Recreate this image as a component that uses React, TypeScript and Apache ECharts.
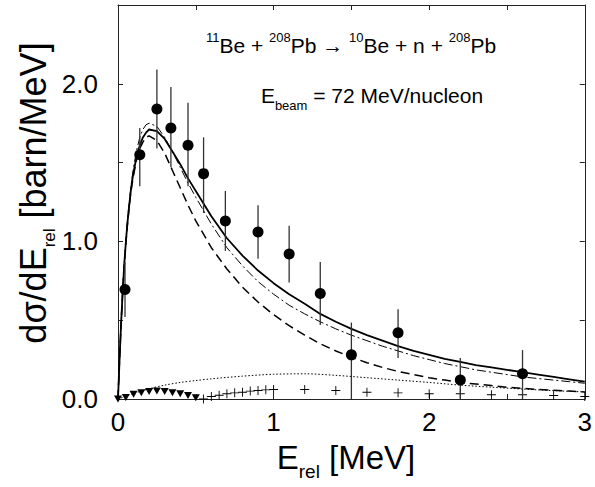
import React, { useEffect, useRef } from "react";
import * as echarts from "echarts";

// Theory curves (shared energy grid)
const CURVE_X = [0, 0.01, 0.02, 0.03, 0.04, 0.05, 0.06, 0.07, 0.08, 0.09, 0.1, 0.12, 0.14, 0.16, 0.18, 0.2, 0.25, 0.3, 0.35, 0.4, 0.45, 0.5, 0.6, 0.7, 0.8, 0.9, 1.0, 1.1, 1.2, 1.3, 1.4, 1.5, 1.6, 1.7, 1.8, 1.9, 2.0, 2.1, 2.2, 2.3, 2.4, 2.5, 2.6, 2.7, 2.8, 2.9, 3.0];
const SOLID_Y = [0, 0.25, 0.48, 0.68, 0.85, 0.99, 1.11, 1.21, 1.30, 1.38, 1.44, 1.54, 1.61, 1.66, 1.69, 1.71, 1.70, 1.65, 1.57, 1.49, 1.40, 1.32, 1.16, 1.02, 0.91, 0.815, 0.735, 0.665, 0.605, 0.54, 0.49, 0.445, 0.405, 0.37, 0.335, 0.305, 0.28, 0.255, 0.235, 0.215, 0.20, 0.185, 0.17, 0.155, 0.14, 0.125, 0.11];
const DASHDOT_Y = [0, 0.25, 0.48, 0.68, 0.86, 1.00, 1.12, 1.23, 1.32, 1.40, 1.47, 1.58, 1.66, 1.71, 1.74, 1.75, 1.73, 1.66, 1.57, 1.47, 1.37, 1.28, 1.11, 0.96, 0.845, 0.745, 0.665, 0.595, 0.54, 0.49, 0.445, 0.405, 0.37, 0.335, 0.305, 0.275, 0.25, 0.225, 0.205, 0.185, 0.17, 0.155, 0.14, 0.13, 0.12, 0.11, 0.10];
const LONGDASH_Y = [0, 0.25, 0.48, 0.68, 0.85, 0.98, 1.10, 1.20, 1.29, 1.36, 1.42, 1.52, 1.59, 1.63, 1.66, 1.67, 1.64, 1.56, 1.45, 1.34, 1.23, 1.13, 0.96, 0.825, 0.71, 0.615, 0.535, 0.465, 0.405, 0.35, 0.305, 0.265, 0.23, 0.20, 0.175, 0.155, 0.135, 0.12, 0.105, 0.095, 0.085, 0.075, 0.068, 0.06, 0.055, 0.05, 0.045];

const DOTTED_X = [0, 0.1, 0.2, 0.3, 0.4, 0.5, 0.6, 0.8, 1.0, 1.2, 1.4, 1.6, 1.8, 2.0, 2.2, 2.4, 2.6, 2.8, 3.0];
const DOTTED_Y = [0, 0.035, 0.065, 0.088, 0.105, 0.117, 0.128, 0.145, 0.157, 0.16, 0.15, 0.135, 0.12, 0.105, 0.088, 0.075, 0.063, 0.053, 0.045];

// Small components
const TRI_X = [0.0, 0.05, 0.1, 0.15, 0.2, 0.25, 0.3, 0.35, 0.4, 0.45, 0.5];
const TRI_Y = [0.0, 0.01, 0.03, 0.04, 0.048, 0.05, 0.048, 0.04, 0.033, 0.022, 0.008];
const CROSS_X = [0.55, 0.6, 0.65, 0.7, 0.75, 0.8, 0.85, 0.9, 0.95, 1.0, 1.2, 1.4, 1.6, 1.8, 2.0, 2.2, 2.4, 2.6, 2.8, 3.0];
const CROSS_Y = [0.0, 0.016, 0.024, 0.033, 0.039, 0.043, 0.05, 0.054, 0.058, 0.06, 0.06, 0.054, 0.043, 0.039, 0.033, 0.033, 0.027, 0.027, 0.022, 0.016];

// Experimental data
const EXP_X = [0.045, 0.14, 0.25, 0.34, 0.45, 0.55, 0.69, 0.90, 1.10, 1.30, 1.50, 1.80, 2.20, 2.60];
const EXP_Y = [0.695, 1.55, 1.84, 1.72, 1.61, 1.43, 1.13, 1.06, 0.92, 0.67, 0.28, 0.42, 0.12, 0.16];
const ERR_LO = [0.52, 1.35, 1.59, 1.47, 1.35, 1.18, 0.94, 0.89, 0.74, 0.47, 0.0, 0.26, 0.0, 0.0];
const ERR_HI = [0.87, 1.72, 2.09, 1.98, 1.88, 1.66, 1.32, 1.23, 1.10, 0.87, 0.485, 0.57, 0.26, 0.31];

const X_LABELS = ["0", "1", "2", "3"];
const Y_LABELS = ["0.0", "1.0", "2.0"];

const FONT = "Liberation Sans, Arial, Helvetica, sans-serif";

const zip = (xs: number[], ys: number[]) => xs.map((x, i) => [x, ys[i]]);

export default function App() {
  const ref = useRef<HTMLDivElement>(null);
  useEffect(() => {
    if (!ref.current) return;
    const chart = echarts.init(ref.current, undefined, { renderer: "svg" });
    const axisLine = { show: true, lineStyle: { color: "#222", width: 1 } };
    const tick = { show: true, inside: true, length: 5, lineStyle: { color: "#222", width: 1 } };
    const lineBase = { type: "line", showSymbol: false, smooth: false, silent: true, z: 2 };
    chart.setOption({
      animation: false,
      grid: { left: 118, right: 6, top: 5, bottom: 88 },
      xAxis: [
        {
          type: "value", min: 0, max: 3, interval: 0.5, position: "bottom",
          axisLine: { ...axisLine, onZero: false }, axisTick: tick, splitLine: { show: false },
          axisLabel: {
            margin: 10, fontSize: 26, color: "#000", fontFamily: FONT,
            formatter: (v: number) => (Math.abs(v - Math.round(v)) < 1e-6 ? X_LABELS[Math.round(v)] : ""),
          },
        },
        {
          type: "value", min: 0, max: 3, interval: 0.5, position: "top",
          axisLine: { ...axisLine, onZero: false }, axisTick: tick, splitLine: { show: false }, axisLabel: { show: false },
        },
      ],
      yAxis: [
        {
          type: "value", min: 0, max: 2.5, interval: 0.5, position: "left",
          axisLine: { ...axisLine, onZero: false }, axisTick: tick, splitLine: { show: false },
          axisLabel: {
            margin: 20, fontSize: 26, color: "#000", fontFamily: FONT,
            formatter: (v: number) => (Math.abs(v - Math.round(v)) < 1e-6 ? Y_LABELS[Math.round(v)] ?? "" : ""),
          },
        },
        {
          type: "value", min: 0, max: 2.5, interval: 0.5, position: "right",
          axisLine: { ...axisLine, onZero: false }, axisTick: tick, splitLine: { show: false }, axisLabel: { show: false },
        },
      ],
      series: [
        { ...lineBase, data: zip(CURVE_X, SOLID_Y), lineStyle: { color: "#000", width: 1.8, type: "solid" } },
        { ...lineBase, data: zip(CURVE_X, DASHDOT_Y), lineStyle: { color: "#000", width: 1, type: [9, 3, 2, 3] } },
        { ...lineBase, data: zip(CURVE_X, LONGDASH_Y), lineStyle: { color: "#000", width: 1.5, type: [9, 5] } },
        { ...lineBase, smooth: 0.3, data: zip(DOTTED_X, DOTTED_Y), lineStyle: { color: "#000", width: 1, type: [1.5, 2] } },
        {
          type: "scatter", data: zip(TRI_X, TRI_Y), symbol: "triangle", symbolRotate: 180, symbolSize: [8, 7],
          itemStyle: { color: "#000", opacity: 1 }, silent: true, z: 3,
        },
        {
          type: "scatter", data: zip(CROSS_X, CROSS_Y),
          symbol: "path://M4.5,0h1v4.5h4.5v1h-4.5v4.5h-1v-4.5h-4.5v-1h4.5z", symbolSize: 9,
          itemStyle: { color: "#000", opacity: 1 }, silent: true, z: 3,
        },
        {
          type: "custom", silent: true, z: 4,
          data: EXP_X.map((x, i) => [x, ERR_LO[i], ERR_HI[i]]),
          encode: { x: 0, y: [1, 2] },
          renderItem: (_p: any, api: any) => {
            const x = api.value(0);
            const a = api.coord([x, api.value(1)]);
            const b = api.coord([x, api.value(2)]);
            return {
              type: "line",
              shape: { x1: a[0], y1: a[1], x2: b[0], y2: b[1] },
              style: { stroke: "#333", lineWidth: 1.3 },
            };
          },
        },
        {
          type: "scatter", data: zip(EXP_X, EXP_Y), symbol: "circle", symbolSize: 11,
          itemStyle: { color: "#000", opacity: 1 }, silent: true, z: 5,
        },
      ],
      graphic: [
        {
          type: "text", x: 351, y: 45.7, z: 10,
          style: {
            text: "{sup|11}{m|Be + }{sup|208}{m|Pb → }{sup|10}{m|Be + n + }{sup|208}{m|Pb}",
            align: "center", verticalAlign: "middle", textAlign: "center", textVerticalAlign: "middle",
            fill: "#000",
            rich: {
              m: { fontSize: 21, lineHeight: 29, fontFamily: FONT, fill: "#000" },
              sup: { fontSize: 13, lineHeight: 13, verticalAlign: "top", fontFamily: FONT, fill: "#000" },
            },
          },
        },
        {
          type: "text", x: 372, y: 95.7, z: 10,
          style: {
            text: "{m|E}{sub|beam}{m| = 72 MeV/nucleon}",
            align: "center", verticalAlign: "middle", textAlign: "center", textVerticalAlign: "middle",
            fill: "#000",
            rich: {
              m: { fontSize: 21, lineHeight: 33, fontFamily: FONT, fill: "#000" },
              sub: { fontSize: 13, lineHeight: 13, verticalAlign: "bottom", fontFamily: FONT, fill: "#000" },
            },
          },
        },
        {
          type: "text", x: 346, y: 457.6, z: 10,
          style: {
            text: "{m|E}{sub|rel}{m| [MeV]}",
            align: "center", verticalAlign: "middle", textAlign: "center", textVerticalAlign: "middle",
            fill: "#000",
            rich: {
              m: { fontSize: 33, lineHeight: 46, fontFamily: FONT, fill: "#000" },
              sub: { fontSize: 19, lineHeight: 19, verticalAlign: "bottom", fontFamily: FONT, fill: "#000" },
            },
          },
        },
        {
          type: "text", x: 33, y: 193, rotation: Math.PI / 2, z: 10,
          style: {
            text: "{m|dσ/dE}{sub|rel}{m| [barn/MeV]}",
            align: "center", verticalAlign: "middle", textAlign: "center", textVerticalAlign: "middle",
            fill: "#000",
            rich: {
              m: { fontSize: 36, lineHeight: 50, fontFamily: FONT, fill: "#000" },
              sub: { fontSize: 17, lineHeight: 16, verticalAlign: "bottom", fontFamily: FONT, fill: "#000" },
            },
          },
        },
      ],
    });
    return () => chart.dispose();
  }, []);
  return (
    <div
      ref={ref}
      style={{ position: "fixed", left: 0, top: 0, width: 595, height: 487, background: "#fff" }}
    />
  );
}
